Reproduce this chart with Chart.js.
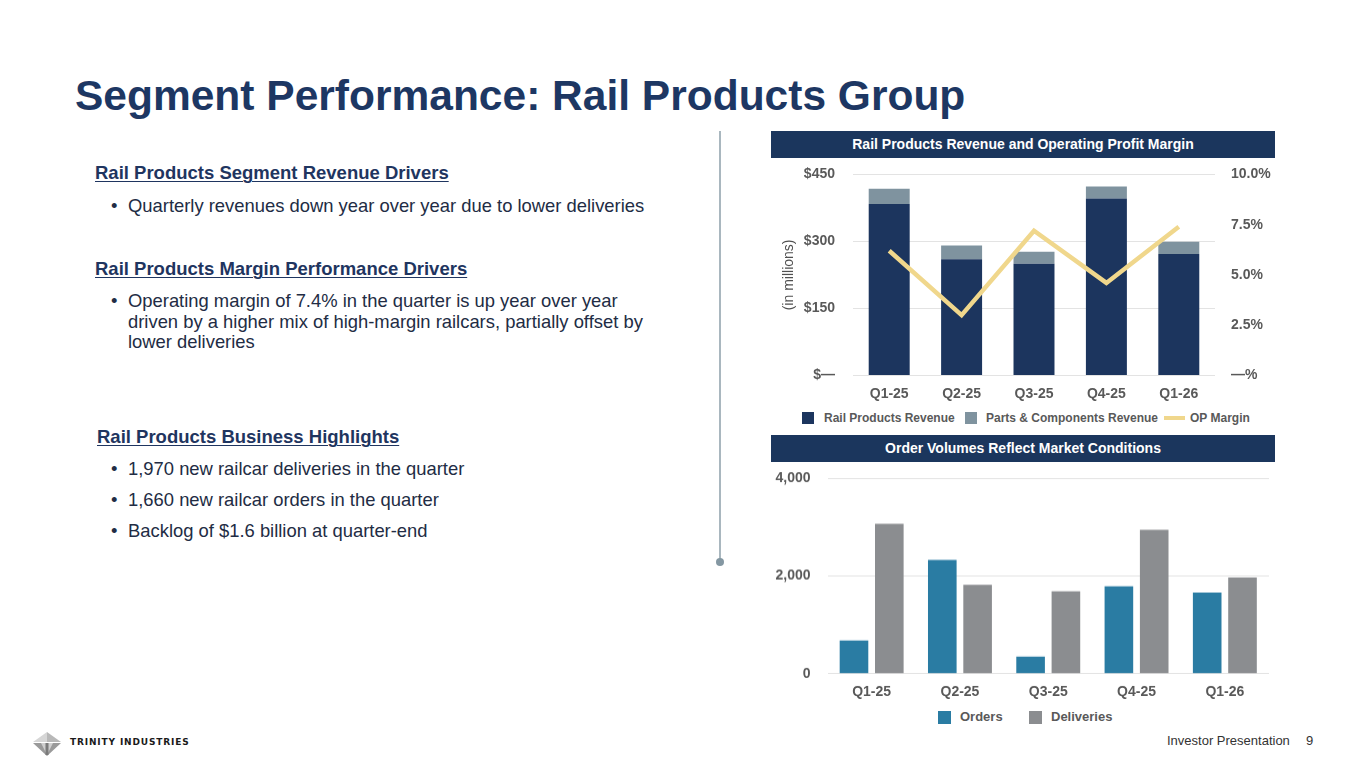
<!DOCTYPE html>
<html>
<head>
<meta charset="utf-8">
<script src="https://cdn.jsdelivr.net/npm/chart.js@4/dist/chart.umd.min.js"></script>
<style>
  html, body { margin: 0; padding: 0; background: #fff; }
  body { width: 1365px; height: 768px; position: relative; overflow: hidden; font-family: "Liberation Sans", Arial, sans-serif; }
  .abs { position: absolute; white-space: nowrap; }
  .title { left: 75px; top: 75px; font-size: 42.5px; line-height: 42.5px; font-weight: bold; color: #1d3763; }
  .h { font-size: 18.5px; line-height: 20px; font-weight: bold; color: #1f3560; text-decoration: underline; text-underline-offset: 2px; text-decoration-thickness: 1px; }
  .b { font-size: 18.4px; line-height: 20.5px; color: #222c44; }
  .dot { position: absolute; left: 111px; }
  .bar-head { position: absolute; left: 771px; width: 504px; height: 27px; background: #1b365d; color: #fff; font-weight: bold; font-size: 14px; line-height: 27px; text-align: center; }
  .chartbox { position: absolute; left: 771px; width: 504px; }
  .leg { position: absolute; font-weight: bold; color: #595959; white-space: nowrap; }
  .sw { position: absolute; }
</style>
</head>
<body>
<div class="abs title">Segment Performance: Rail Products Group</div>

<div class="abs h" style="left:95px; top:163px;">Rail Products Segment Revenue Drivers</div>
<div class="abs b dot" style="top:196px;">•</div>
<div class="abs b" style="left:128px; top:196px;">Quarterly revenues down year over year due to lower deliveries</div>

<div class="abs h" style="left:95px; top:259px;">Rail Products Margin Performance Drivers</div>
<div class="abs b dot" style="top:291px;">•</div>
<div class="abs b" style="left:128px; top:291px;">Operating margin of 7.4% in the quarter is up year over year<br>driven by a higher mix of high-margin railcars, partially offset by<br>lower deliveries</div>

<div class="abs h" style="left:97px; top:427px;">Rail Products Business Highlights</div>
<div class="abs b dot" style="top:459px;">•</div>
<div class="abs b" style="left:128px; top:459px;">1,970 new railcar deliveries in the quarter</div>
<div class="abs b dot" style="top:490px;">•</div>
<div class="abs b" style="left:128px; top:490px;">1,660 new railcar orders in the quarter</div>
<div class="abs b dot" style="top:521px;">•</div>
<div class="abs b" style="left:128px; top:521px;">Backlog of $1.6 billion at quarter-end</div>

<div style="position:absolute; left:719px; top:131px; width:1.5px; height:430px; background:#a9b7bf;"></div>
<div style="position:absolute; left:716px; top:558px; width:8px; height:8px; border-radius:50%; background:#8497a2;"></div>

<div class="chartbox" style="top:147.6px; height:257.4px;"><canvas id="c1"></canvas></div>
<div class="bar-head" style="top:131px;">Rail Products Revenue and Operating Profit Margin</div>

<div class="sw" style="left:802px; top:412px; width:12px; height:12px; background:#1c355e;"></div>
<div class="leg" style="left:824px; top:410px; font-size:12px; line-height:16px;">Rail Products Revenue</div>
<div class="sw" style="left:965px; top:412px; width:12px; height:12px; background:#7f939f;"></div>
<div class="leg" style="left:986px; top:410px; font-size:12px; line-height:16px;">Parts &amp; Components Revenue</div>
<div class="sw" style="left:1164px; top:416px; width:21px; height:4px; background:#f0d78c;"></div>
<div class="leg" style="left:1190px; top:410px; font-size:12px; line-height:16px;">OP Margin</div>

<div class="chartbox" style="top:452.9px; height:249.8px;"><canvas id="c2"></canvas></div>
<div class="bar-head" style="top:435px;">Order Volumes Reflect Market Conditions</div>

<div class="sw" style="left:938px; top:711px; width:13px; height:13px; background:#2a7ca3;"></div>
<div class="leg" style="left:960px; top:709px; font-size:13px; line-height:16px;">Orders</div>
<div class="sw" style="left:1029px; top:711px; width:13px; height:13px; background:#8b8d90;"></div>
<div class="leg" style="left:1051px; top:709px; font-size:13px; line-height:16px;">Deliveries</div>

<svg style="position:absolute; left:32px; top:731px;" width="30" height="26" viewBox="0 0 30 26">
  <polygon points="15,1 29,11 15,11" fill="#b8b8b8"/>
  <polygon points="15,1 1,11 15,11" fill="#d6d6d6"/>
  <polygon points="1,12 29,12 15,25" fill="#9a9a9a"/>
  <polygon points="9,12 21,12 15,24" fill="#cfcfcf"/>
  <rect x="13.5" y="12" width="3" height="12" fill="#7a7a7a"/>
</svg>
<div class="abs" style="left:70px; top:736px; font-family:'DejaVu Sans', sans-serif; font-weight:bold; font-size:9px; line-height:12px; letter-spacing:0.85px; color:#1a1a1a;">TRINITY INDUSTRIES</div>

<div class="abs" style="left:1167px; top:733px; font-size:13px; line-height:16px; color:#333;">Investor Presentation</div>
<div class="abs" style="left:1306px; top:733px; font-size:13px; line-height:16px; color:#333;">9</div>

<script>
const quarters = ["Q1-25", "Q2-25", "Q3-25", "Q4-25", "Q1-26"];
const railRevenue = [384, 260, 250, 396, 272];
const partsRevenue = [34, 31, 27, 27, 27];
const opMargin = [6.2, 3.0, 7.2, 4.6, 7.4];
const orders = [680, 2330, 350, 1790, 1660];
const deliveries = [3070, 1820, 1690, 2950, 1970];
const revenueTicks = [0, 150, 300, 450];
const marginTicks = [0, 2.5, 5, 7.5, 10];
const volumeTicks = [0, 2000, 4000];

const FONT = "'Liberation Sans', Arial, sans-serif";
const tickFont = { family: FONT, size: 14, weight: 'bold' };
const tickColor = '#595959';
const gridColor = '#e3e3e3';

new Chart(document.getElementById('c1'), {
  data: {
    labels: quarters,
    datasets: [
      { type: 'line', label: 'OP Margin', data: opMargin, yAxisID: 'y2', borderColor: '#f0d78c', borderWidth: 4.5, pointRadius: 0, tension: 0, order: 0 },
      { type: 'bar', label: 'Rail Products Revenue', data: railRevenue, backgroundColor: '#1c355e', yAxisID: 'y', stack: 's', order: 1, categoryPercentage: 1, barPercentage: 0.566 },
      { type: 'bar', label: 'Parts & Components Revenue', data: partsRevenue, backgroundColor: '#7f939f', yAxisID: 'y', stack: 's', order: 1, categoryPercentage: 1, barPercentage: 0.566 }
    ]
  },
  options: {
    responsive: true, maintainAspectRatio: false, animation: false,
    layout: { padding: 0 },
    plugins: { legend: { display: false }, tooltip: { enabled: false } },
    scales: {
      x: {
        stacked: true, offset: true,
        grid: { display: false, drawTicks: false }, border: { display: false },
        ticks: { font: tickFont, color: tickColor, padding: 10 },
        afterFit: s => { s.height = 30; }
      },
      y: {
        stacked: true, position: 'left', min: 0, max: 450,
        afterBuildTicks: s => { s.ticks = revenueTicks.map(v => ({ value: v })); },
        grid: { color: gridColor, drawTicks: false, lineWidth: 1 }, border: { display: false },
        ticks: { font: tickFont, color: tickColor, padding: 18, callback: v => v === 0 ? '$—' : '$' + v },
        title: { display: true, text: '(in millions)', font: { family: FONT, size: 14 }, color: '#505050', padding: { top: 10, bottom: 0 } },
        afterFit: s => { s.width = 82; }
      },
      y2: {
        position: 'right', min: 0, max: 10,
        afterBuildTicks: s => { s.ticks = marginTicks.map(v => ({ value: v })); },
        grid: { display: false, drawTicks: false }, border: { display: false },
        ticks: { font: tickFont, color: tickColor, padding: 16, callback: v => v === 0 ? '—%' : v.toFixed(1) + '%' },
        afterFit: s => { s.width = 60; }
      }
    }
  }
});

new Chart(document.getElementById('c2'), {
  type: 'bar',
  data: {
    labels: quarters,
    datasets: [
      { label: 'Orders', data: orders, backgroundColor: '#2a7ca3', categoryPercentage: 0.8, barPercentage: 0.81 },
      { label: 'Deliveries', data: deliveries, backgroundColor: '#8b8d90', categoryPercentage: 0.8, barPercentage: 0.81 }
    ]
  },
  options: {
    responsive: true, maintainAspectRatio: false, animation: false,
    layout: { padding: { top: 0, left: 0, right: 6, bottom: 0 } },
    plugins: { legend: { display: false }, tooltip: { enabled: false } },
    scales: {
      x: {
        grid: { display: false, drawTicks: false }, border: { display: false },
        ticks: { font: tickFont, color: tickColor, padding: 10 },
        afterFit: s => { s.height = 30; }
      },
      y: {
        min: 0, max: 4000,
        afterBuildTicks: s => { s.ticks = volumeTicks.map(v => ({ value: v })); },
        grid: { color: gridColor, drawTicks: false }, border: { display: false },
        ticks: { font: tickFont, color: tickColor, padding: 17, callback: v => v.toLocaleString('en-US') },
        afterFit: s => { s.width = 56.5; }
      }
    }
  }
});
</script>
</body>
</html>
